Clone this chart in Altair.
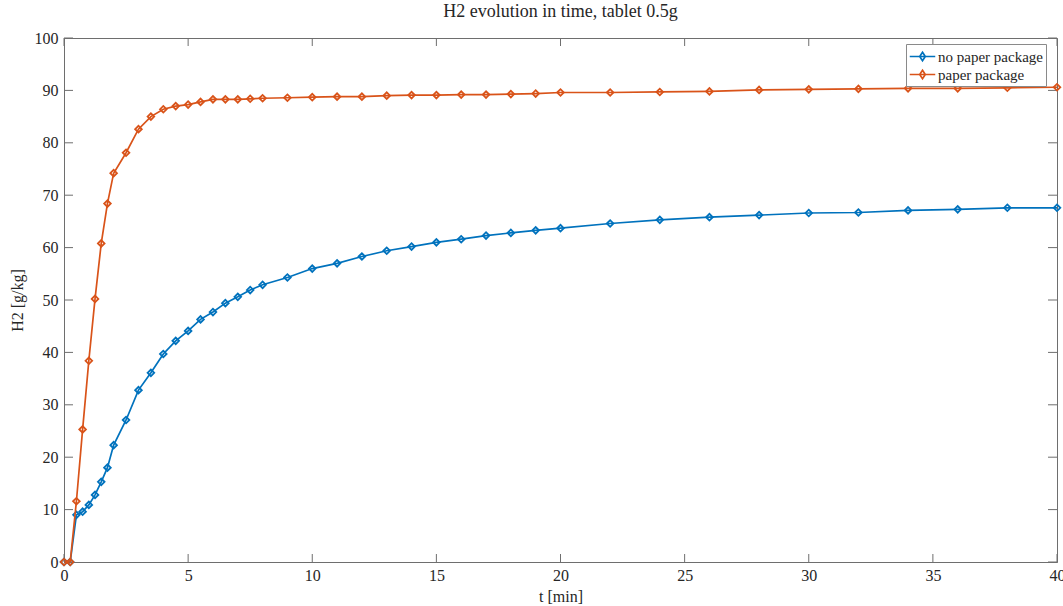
import altair as alt
import pandas as pd

# Sampling times [min]
t = [0, 0.25, 0.5, 0.75, 1, 1.25, 1.5, 1.75, 2, 2.5, 3, 3.5, 4, 4.5, 5, 5.5,
     6, 6.5, 7, 7.5, 8, 9, 10, 11, 12, 13, 14, 15, 16, 17, 18, 19, 20, 22,
     24, 26, 28, 30, 32, 34, 36, 38, 40]

# H2 released [g/kg]
no_paper = [0, 0, 9.0, 9.6, 10.9, 12.8, 15.3, 18.0, 22.3, 27.1, 32.8, 36.1,
            39.7, 42.2, 44.1, 46.3, 47.7, 49.4, 50.6, 51.9, 52.9, 54.3, 56.0,
            57.0, 58.3, 59.4, 60.2, 61.0, 61.6, 62.3, 62.8, 63.3, 63.7, 64.6,
            65.3, 65.8, 66.2, 66.6, 66.7, 67.1, 67.3, 67.6, 67.6]
paper = [0, 0, 11.6, 25.3, 38.4, 50.2, 60.8, 68.4, 74.2, 78.1, 82.6, 85.0,
         86.4, 87.0, 87.3, 87.8, 88.3, 88.3, 88.3, 88.4, 88.5, 88.6, 88.7,
         88.8, 88.8, 89.0, 89.1, 89.1, 89.2, 89.2, 89.3, 89.4, 89.6, 89.6,
         89.7, 89.8, 90.1, 90.2, 90.3, 90.4, 90.4, 90.5, 90.6]

series_names = ["no paper package", "paper package"]
series_colors = ["#0072BD", "#D95319"]

x_ticks = [0, 5, 10, 15, 20, 25, 30, 35, 40]
y_ticks = [0, 10, 20, 30, 40, 50, 60, 70, 80, 90, 100]

W, H = 993, 524
FONT = "Liberation Serif"
INK = "#262626"
FRAME = "#6e6e6e"

df = pd.DataFrame({
    "t": t * 2,
    "h2": no_paper + paper,
    "series": [series_names[0]] * len(t) + [series_names[1]] * len(t),
})

x_scale = alt.Scale(domain=[0, 40], nice=False, zero=False)
y_scale = alt.Scale(domain=[0, 100], nice=False)
color_scale = alt.Scale(domain=series_names, range=series_colors)

legend = alt.Legend(
    title=None,
    orient="none",
    legendX=842,
    legendY=6,
    direction="vertical",
    strokeColor="#8a8a8a",
    fillColor="white",
    padding=3,
    labelFont=FONT,
    labelFontSize=15,
    labelColor=INK,
    labelOffset=6,
    rowPadding=0,
    symbolType="M-1.5,0H1.5M0,-0.5L0.33,0L0,0.5L-0.33,0Z",
    symbolSize=289,
    symbolStrokeWidth=1.7,
    symbolFillColor="transparent",
    symbolOffset=4,
)

x_enc = alt.X(
    "t:Q", scale=x_scale,
    axis=alt.Axis(values=x_ticks, title="t [min]", ticks=False, grid=False,
                  labelFlush=False, labelPadding=5, titlePadding=5),
)
y_enc = alt.Y(
    "h2:Q", scale=y_scale,
    axis=alt.Axis(values=y_ticks, title="H2 [g/kg]", ticks=False, grid=False,
                  labelFlush=False, labelPadding=6, titlePadding=9),
)
color_enc = alt.Color("series:N", scale=color_scale, legend=legend)

base = alt.Chart(df)


def series_layers(name):
    part = base.transform_filter(alt.datum.series == name)
    line = part.mark_line(strokeWidth=1.7).encode(x=x_enc, y=y_enc, color=color_enc)
    pts = part.mark_point(shape="diamond", filled=False, size=44,
                          strokeWidth=1.8, opacity=1).encode(
        x=x_enc, y=y_enc, color=color_enc)
    return [line, pts]


# inward tick marks on all four sides of the box
xt = alt.Chart(pd.DataFrame({"v": x_ticks}))
yt = alt.Chart(pd.DataFrame({"v": y_ticks}))
tick_style = dict(color=FRAME, strokeWidth=1)
x_bottom = xt.mark_rule(**tick_style).encode(
    x=alt.X("v:Q", scale=x_scale), y=alt.value(H), y2=alt.value(H - 8))
x_top = xt.mark_rule(**tick_style).encode(
    x=alt.X("v:Q", scale=x_scale), y=alt.value(0), y2=alt.value(8))
y_left = yt.mark_rule(**tick_style).encode(
    y=alt.Y("v:Q", scale=y_scale), x=alt.value(0), x2=alt.value(9))
y_right = yt.mark_rule(**tick_style).encode(
    y=alt.Y("v:Q", scale=y_scale), x=alt.value(W), x2=alt.value(W - 9))

chart = alt.layer(
    x_bottom, x_top, y_left, y_right,
    *series_layers(series_names[0]),
    *series_layers(series_names[1]),
).properties(
    width=W,
    height=H,
    title=alt.TitleParams("H2 evolution in time, tablet 0.5g", offset=9),
    autosize=alt.AutoSizeParams(type="none"),
    padding={"left": 64, "top": 38, "right": 6, "bottom": 44},
).configure_view(
    stroke=FRAME, strokeWidth=1,
).configure_axis(
    domainColor=FRAME,
    domainWidth=1,
    labelFont=FONT,
    labelFontSize=16,
    labelColor=INK,
    titleFont=FONT,
    titleFontSize=16,
    titleFontWeight="normal",
    titleColor=INK,
).configure_title(
    font=FONT,
    fontSize=18,
    fontWeight="normal",
    color=INK,
    anchor="middle",
)

chart.save("out.html", embed_options={"renderer": "svg", "actions": False})
